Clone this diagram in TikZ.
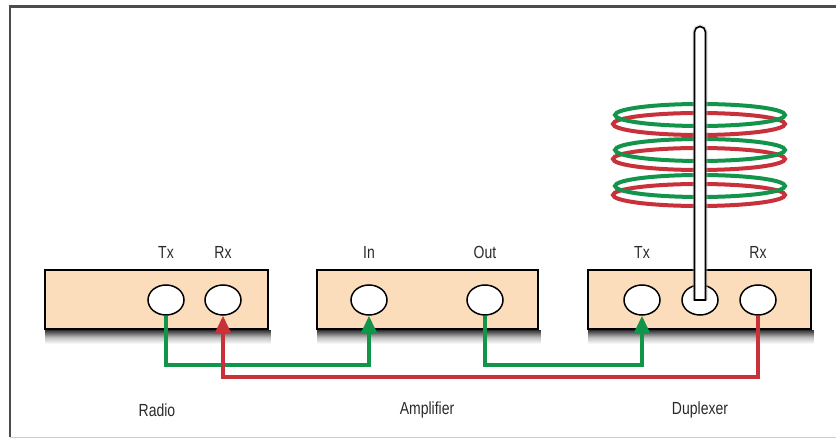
\documentclass[tikz,border=0pt]{standalone}
\usepackage{fontspec}
\newfontfamily\lblfont{Liberation Sans}[FakeStretch=0.8]
\usetikzlibrary{shapes.geometric,arrows.meta}
\definecolor{boxfill}{HTML}{FCDDBB}
\definecolor{sigreen}{HTML}{12944A}
\definecolor{sigred}{HTML}{C8303A}
\definecolor{txt}{HTML}{2A2A2A}
\begin{document}
\begin{tikzpicture}[x=1pt,y=-1pt,
  unit/.style={draw=black,line width=1.8pt,fill=boxfill,rectangle,
    minimum height=59pt,inner sep=0pt},
  undershadow/.style={top color=black!75,bottom color=white,middle color=black!25},
  jack/.style={draw=black,line width=1.5pt,fill=white,ellipse,
    minimum width=36pt,minimum height=30pt,inner sep=0pt},
  lbl/.style={font=\lblfont\fontsize{17.5}{20}\selectfont,text=txt,inner sep=0pt},
  txpath/.style={draw=sigreen,line width=3.8pt},
  rxpath/.style={draw=sigred,line width=3.8pt},
  tip/.style={-{Triangle[width=16pt,length=18pt]}},
  coilg/.style={draw=sigreen,line width=4pt},
  coilr/.style={draw=sigred,line width=4pt}]
\useasboundingbox (0,0) rectangle (836,438);
% outer frame
\draw[draw=black!70,line width=2.6pt] (836,6.5) -- (10,6.5) -- (10,437);
\draw[draw=black!20,line width=1pt] (10,437.5) -- (836,437.5);

% units
\node[unit,minimum width=223pt] (radio) at (156.5,299.5) {};
\node[unit,minimum width=221pt] (amp) at (427.5,299.5) {};
\node[unit,minimum width=223pt] (dup) at (699.5,299.5) {};

% soft shadows under the units
\foreach \u in {radio,amp,dup}{
  \shade[undershadow] ([xshift=1pt,yshift=-0.9pt]\u.south west)
    rectangle ([xshift=2pt,yshift=-14pt]\u.south east);
}

% jacks
\node[jack] (rtx) at (166,300) {};
\node[jack] (rrx) at (223,300) {};
\node[jack] (ain) at (369,300) {};
\node[jack] (aout) at (485,300) {};
\node[jack] (dtx) at (642,300) {};
\node[jack] (dant) at (700,300) {};
\node[jack] (drx) at (758,300) {};

% jack labels
\node[lbl] (lrtx) at (166,252) {Tx};
\node[lbl] (lrrx) at (223,252) {Rx};
\node[lbl] (lain) at (369,252) {In};
\node[lbl] (laout) at (485,252) {Out};
\node[lbl] (ldtx) at (642,252) {Tx};
\node[lbl] (ldrx) at (758,252) {Rx};

% unit names
\node[lbl] (nradio) at (157,410) {Radio};
\node[lbl] (namp) at (427,410) {Amplifier};
\node[lbl] (ndup) at (700,410) {Duplexer};

% coils around the antenna
\foreach \cy in {115,150,186}{
  \draw[coilr] (699,\cy+9) ellipse [x radius=86pt,y radius=11pt];
  \draw[coilg] (700,\cy) ellipse [x radius=85pt,y radius=11pt];
}

% antenna rod with a faint halo
\draw[draw=black!25,line width=5pt,opacity=0.5]
  (dant.center) ++(-5,0) -- ++(0,-268) arc[start angle=180,end angle=0,radius=5pt]
  -- (705,300);
\draw[draw=black,line width=1.6pt,fill=white]
  (dant.center) ++(-5.5,0) -- ++(0,-268) arc[start angle=180,end angle=0,radius=5.5pt]
  -- (705.5,300) -- cycle;

% signal paths
\draw[txpath,tip] (rtx.south) -- ++(0,49) -| (ain.south);
\draw[txpath,tip] (aout.south) -- ++(0,49) -| (dtx.south);
\draw[rxpath,tip] (drx.south) -- ++(0,61) -| (rrx.south);
\end{tikzpicture}
\end{document}
